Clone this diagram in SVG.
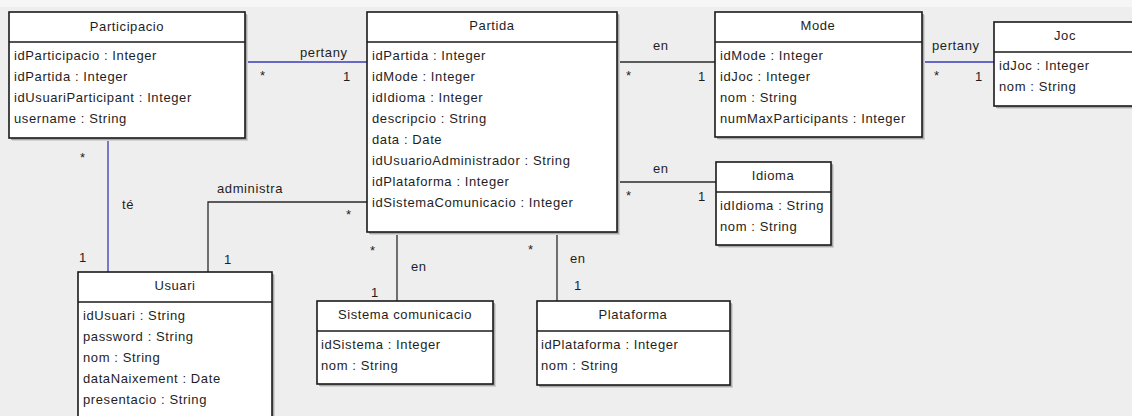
<svg xmlns="http://www.w3.org/2000/svg" width="1132" height="416" viewBox="0 0 1132 416">
<style>
text{font-family:"Liberation Sans",Arial,sans-serif;font-size:13px;fill:#1e1e1e;letter-spacing:0.6px}
.t{text-anchor:middle}
.box{fill:#ffffff;stroke:#1a1a1a;stroke-width:1.6}
.sh1{fill:#a8a8a8}
.sh2{fill:#d2d2d2}
.div{stroke:#1a1a1a;stroke-width:1.6}
.blk{stroke:#2a2a2a;stroke-width:1.3;fill:none}
.blu{stroke:#3a3ab8;stroke-width:1.3;fill:none}
</style>
<rect x="0" y="0" width="1132" height="416" fill="#eeeeee"/>
<rect x="0" y="0" width="1132" height="7" fill="#f6f6f6"/>

<g id="connectors">
  <line class="blu" x1="245" y1="62" x2="367" y2="62"/>
  <text x="300" y="57">pertany</text>
  <text x="260" y="80">*</text>
  <text x="343" y="81">1</text>

  <line class="blk" x1="617" y1="62" x2="715" y2="62"/>
  <text x="653" y="50">en</text>
  <text x="626" y="80">*</text>
  <text x="698" y="81">1</text>

  <line class="blk" x1="617" y1="182" x2="716" y2="182"/>
  <text x="653" y="173">en</text>
  <text x="626" y="200">*</text>
  <text x="698" y="201">1</text>

  <line class="blu" x1="922" y1="62" x2="994" y2="62"/>
  <text x="932" y="50">pertany</text>
  <text x="934" y="80">*</text>
  <text x="975" y="81">1</text>

  <line class="blu" x1="108" y1="138" x2="108" y2="272"/>
  <text x="80" y="162">*</text>
  <text x="122" y="209">té</text>
  <text x="79" y="262">1</text>

  <polyline class="blk" points="208,272 208,202 367,202"/>
  <text x="217" y="193">administra</text>
  <text x="346" y="219">*</text>
  <text x="224" y="264">1</text>

  <line class="blk" x1="397" y1="232" x2="397" y2="301"/>
  <text x="370" y="255">*</text>
  <text x="411" y="271">en</text>
  <text x="371" y="297">1</text>

  <line class="blk" x1="557" y1="232" x2="557" y2="301"/>
  <text x="528" y="254">*</text>
  <text x="570" y="263">en</text>
  <text x="574" y="290">1</text>
</g>

<g id="Participacio">
  <rect class="sh2" x="12" y="15" width="236" height="126"/>
  <rect class="sh1" x="11" y="14" width="236" height="126"/>
  <rect class="box" x="9" y="12" width="236" height="126"/>
  <line class="div" x1="9" y1="42" x2="245" y2="42"/>
  <text class="t" x="127" y="31">Participacio</text>
  <text x="14" y="60">idParticipacio : Integer</text>
  <text x="14" y="81">idPartida : Integer</text>
  <text x="14" y="102">idUsuariParticipant : Integer</text>
  <text x="14" y="123">username : String</text>
</g>

<g id="Partida">
  <rect class="sh2" x="370" y="15" width="250" height="220"/>
  <rect class="sh1" x="369" y="14" width="250" height="220"/>
  <rect class="box" x="367" y="12" width="250" height="220"/>
  <line class="div" x1="367" y1="42" x2="617" y2="42"/>
  <text class="t" x="492" y="30">Partida</text>
  <text x="372" y="60">idPartida : Integer</text>
  <text x="372" y="81">idMode : Integer</text>
  <text x="372" y="102">idIdioma : Integer</text>
  <text x="372" y="123">descripcio : String</text>
  <text x="372" y="144">data : Date</text>
  <text x="372" y="165">idUsuarioAdministrador : String</text>
  <text x="372" y="186">idPlataforma : Integer</text>
  <text x="372" y="207">idSistemaComunicacio : Integer</text>
</g>

<g id="Mode">
  <rect class="sh2" x="718" y="15" width="207" height="125"/>
  <rect class="sh1" x="717" y="14" width="207" height="125"/>
  <rect class="box" x="715" y="12" width="207" height="125"/>
  <line class="div" x1="715" y1="42" x2="922" y2="42"/>
  <text class="t" x="818" y="30">Mode</text>
  <text x="720" y="60">idMode : Integer</text>
  <text x="720" y="81">idJoc : Integer</text>
  <text x="720" y="102">nom : String</text>
  <text x="720" y="123">numMaxParticipants : Integer</text>
</g>

<g id="Joc">
  <rect class="sh2" x="997" y="25" width="142" height="84"/>
  <rect class="sh1" x="996" y="24" width="142" height="84"/>
  <rect class="box" x="994" y="22" width="142" height="84"/>
  <line class="div" x1="994" y1="52" x2="1136" y2="52"/>
  <text class="t" x="1065" y="40">Joc</text>
  <text x="999" y="70">idJoc : Integer</text>
  <text x="999" y="91">nom : String</text>
</g>

<g id="Idioma">
  <rect class="sh2" x="719" y="165" width="115" height="83"/>
  <rect class="sh1" x="718" y="164" width="115" height="83"/>
  <rect class="box" x="716" y="162" width="115" height="83"/>
  <line class="div" x1="716" y1="192" x2="831" y2="192"/>
  <text class="t" x="773" y="180">Idioma</text>
  <text x="720" y="210">idIdioma : String</text>
  <text x="720" y="231">nom : String</text>
</g>

<g id="Usuari">
  <rect class="sh2" x="81" y="275" width="194" height="153"/>
  <rect class="sh1" x="80" y="274" width="194" height="153"/>
  <rect class="box" x="78" y="272" width="194" height="153"/>
  <line class="div" x1="78" y1="302" x2="272" y2="302"/>
  <text class="t" x="175" y="290">Usuari</text>
  <text x="83" y="320">idUsuari : String</text>
  <text x="83" y="341">password : String</text>
  <text x="83" y="362">nom : String</text>
  <text x="83" y="383">dataNaixement : Date</text>
  <text x="83" y="404">presentacio : String</text>
</g>

<g id="SistemaComunicacio">
  <rect class="sh2" x="320" y="304" width="176" height="83"/>
  <rect class="sh1" x="319" y="303" width="176" height="83"/>
  <rect class="box" x="317" y="301" width="176" height="83"/>
  <line class="div" x1="317" y1="331" x2="493" y2="331"/>
  <text class="t" x="405" y="319">Sistema comunicacio</text>
  <text x="321" y="349">idSistema : Integer</text>
  <text x="321" y="370">nom : String</text>
</g>

<g id="Plataforma">
  <rect class="sh2" x="540" y="304" width="193" height="84"/>
  <rect class="sh1" x="539" y="303" width="193" height="84"/>
  <rect class="box" x="537" y="301" width="193" height="84"/>
  <line class="div" x1="537" y1="331" x2="730" y2="331"/>
  <text class="t" x="633" y="319">Plataforma</text>
  <text x="541" y="349">idPlataforma : Integer</text>
  <text x="541" y="370">nom : String</text>
</g>
</svg>
